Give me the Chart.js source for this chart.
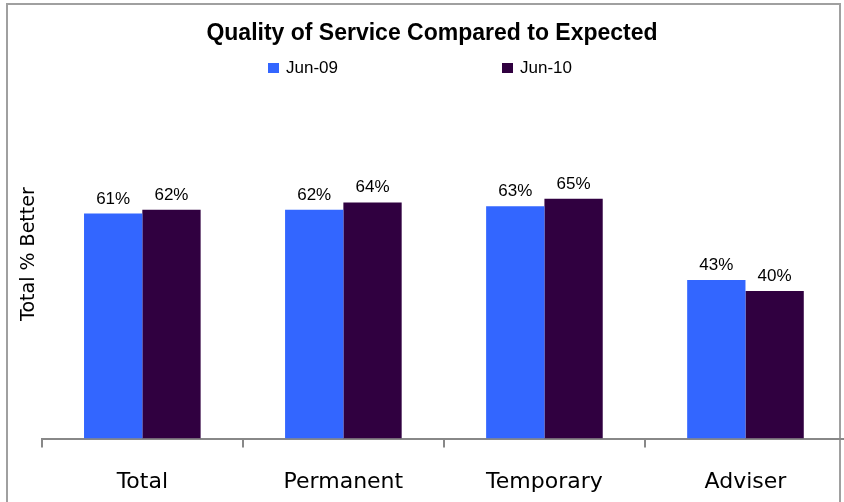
<!DOCTYPE html>
<html>
<head>
<meta charset="utf-8">
<script src="https://cdn.jsdelivr.net/npm/chart.js@4.4.0/dist/chart.umd.min.js"></script>
<style>
  body { margin: 0; width: 844px; height: 502px; overflow: hidden; background: #fff; position: relative; }
  #frame { position: absolute; left: 6px; top: 3px; width: 831px; height: 600px; border: 2px solid #a0a0a0; }
  #wrap { position: absolute; left: 0; top: 0; width: 864px; height: 523px; }
</style>
</head>
<body>
<div id="frame"></div>
<div id="wrap"><canvas id="qualityChart"></canvas></div>
<script>
// chart data
const categories = ['Total', 'Permanent', 'Temporary', 'Adviser'];
const seriesNames = ['Jun-09', 'Jun-10'];
const jun09 = [61, 62, 63, 43];
const jun10 = [62, 64, 65, 40];
const colors = ['#3366ff', '#300040'];

// legend drawn by hand, spaced like the original
const legendPlugin = {
  id: 'wideLegend',
  afterDraw(chart) {
    const ctx = chart.ctx;
    const spots = [268, 502];
    ctx.save();
    ctx.font = '17px "Liberation Sans", Arial, sans-serif';
    ctx.textBaseline = 'middle';
    chart.data.datasets.forEach((ds, i) => {
      ctx.fillStyle = ds.backgroundColor;
      ctx.fillRect(spots[i], 63, 11, 10);
      ctx.fillStyle = '#000';
      ctx.fillText(ds.label, spots[i] + 18, 68);
    });
    ctx.restore();
  }
};

// value labels on top of the bars
const valueLabels = {
  id: 'valueLabels',
  afterDatasetsDraw(chart) {
    const ctx = chart.ctx;
    ctx.save();
    ctx.font = '17px "Liberation Sans", Arial, sans-serif';
    ctx.fillStyle = '#000';
    ctx.textAlign = 'center';
    ctx.textBaseline = 'alphabetic';
    chart.data.datasets.forEach((ds, i) => {
      chart.getDatasetMeta(i).data.forEach((bar, j) => {
        ctx.fillText(ds.data[j] + '%', bar.x, bar.y - 10);
      });
    });
    ctx.restore();
  }
};

new Chart(document.getElementById('qualityChart'), {
  type: 'bar',
  data: {
    labels: categories,
    datasets: [
      { label: seriesNames[0], data: jun09, backgroundColor: colors[0] },
      { label: seriesNames[1], data: jun10, backgroundColor: colors[1] }
    ]
  },
  options: {
    responsive: true,
    maintainAspectRatio: false,
    animation: false,
    categoryPercentage: 0.58,
    barPercentage: 1,
    layout: { padding: { left: 18, right: 18, top: 0, bottom: 7 } },
    plugins: {
      legend: { display: false },
      tooltip: { enabled: false },
      title: {
        display: true,
        text: 'Quality of Service Compared to Expected',
        color: '#000',
        font: { family: '"Liberation Sans", Arial, sans-serif', size: 23, weight: 'bold' },
        padding: { top: 20, bottom: 22 }
      }
    },
    scales: {
      x: {
        grid: { display: true, drawOnChartArea: false, drawTicks: true, tickLength: 9, color: '#888', lineWidth: 2 },
        border: { display: true, color: '#888', width: 2 },
        ticks: {
          color: '#000',
          padding: 21,
          font: { family: '"DejaVu Sans", sans-serif', size: 22 }
        }
      },
      y: {
        min: 0,
        max: 100,
        grid: { display: false, drawTicks: false },
        border: { display: false },
        ticks: { display: false },
        title: {
          display: true,
          text: 'Total % Better',
          color: '#000',
          font: { family: '"DejaVu Sans", sans-serif', size: 19 },
          padding: { top: 0, bottom: 1 }
        }
      }
    }
  },
  plugins: [valueLabels, legendPlugin]
});
</script>
</body>
</html>
